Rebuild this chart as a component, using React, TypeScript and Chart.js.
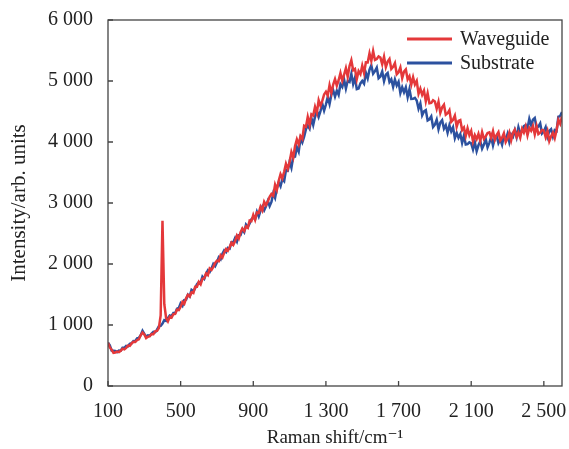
import React, { useEffect, useRef } from "react";
import { Chart, registerables } from "chart.js";

Chart.register(...registerables);

// Raman shift grid: first sample and sampling step (cm^-1)
const shiftStart = 100;
const shiftStep = 10;

// Intensity (arb. units), one value per 10 cm^-1 from 100 to 2600
const waveguide = [
  709, 632, 595, 543, 550, 564, 554, 578, 612, 600,
  625, 662, 656, 698, 725, 721, 753, 765, 831, 877,
  844, 785, 806, 815, 852, 848, 895, 902, 948, 1159,
  2710, 1340, 1115, 1060, 1135, 1120, 1178, 1182, 1250, 1245,
  1298, 1378, 1346, 1438, 1494, 1466, 1534, 1522, 1626, 1626,
  1706, 1666, 1758, 1766, 1846, 1818, 1926, 1902, 1954, 2018,
  2054, 2046, 2142, 2106, 2186, 2246, 2218, 2278, 2350, 2314,
  2375, 2466, 2417, 2523, 2584, 2540, 2616, 2592, 2713, 2704,
  2804, 2725, 2844, 2837, 2938, 2877, 3020, 2965, 3024, 3101,
  3148, 3120, 3300, 3216, 3364, 3472, 3404, 3512, 3644, 3560,
  3673, 3835, 3745, 3934, 4042, 3961, 4096, 4051, 4267, 4249,
  4411, 4284, 4454, 4435, 4578, 4478, 4684, 4593, 4673, 4780,
  4824, 4761, 4932, 4806, 4941, 5031, 4923, 5013, 5130, 5004,
  5103, 5212, 5069, 5245, 5340, 5176, 5198, 5030, 5163, 5112,
  5251, 5130, 5306, 5303, 5452, 5328, 5490, 5345, 5361, 5404,
  5384, 5275, 5400, 5228, 5317, 5361, 5197, 5231, 5292, 5110,
  5143, 5222, 5049, 5155, 5190, 5026, 5078, 4940, 5063, 4942,
  5001, 4790, 4876, 4773, 4842, 4668, 4800, 4635, 4641, 4684,
  4664, 4545, 4660, 4478, 4567, 4611, 4447, 4471, 4522, 4330,
  4363, 4432, 4249, 4345, 4360, 4196, 4238, 4100, 4223, 4112,
  4182, 4010, 4112, 4046, 4134, 4016, 4160, 4050, 4092, 4148,
  4158, 4070, 4180, 4036, 4114, 4162, 4024, 4072, 4144, 4000,
  4056, 4154, 4028, 4150, 4200, 4082, 4156, 4070, 4216, 4154,
  4252, 4110, 4232, 4186, 4264, 4126, 4260, 4130, 4152, 4198,
  4188, 4080, 4180, 4016, 4094, 4152, 4064, 4192, 4364, 4300,
  4420,
];

const substrate = [
  710, 667, 581, 578, 575, 556, 583, 580, 626, 627,
  659, 650, 691, 700, 737, 733, 780, 787, 833, 904,
  854, 807, 830, 823, 860, 889, 884, 923, 977, 985,
  1022, 1080, 1067, 1113, 1155, 1145, 1195, 1195, 1268, 1280,
  1356, 1316, 1408, 1416, 1496, 1468, 1576, 1552, 1604, 1668,
  1704, 1696, 1792, 1756, 1836, 1896, 1868, 1928, 2000, 1964,
  2028, 2108, 2076, 2168, 2224, 2196, 2264, 2252, 2356, 2356,
  2425, 2366, 2472, 2473, 2564, 2520, 2646, 2607, 2663, 2734,
  2766, 2732, 2854, 2778, 2876, 2944, 2880, 2948, 3034, 2950,
  3017, 3156, 3084, 3246, 3339, 3275, 3391, 3357, 3541, 3530,
  3677, 3577, 3758, 3760, 3916, 3842, 4057, 3991, 4087, 4209,
  4271, 4219, 4391, 4280, 4416, 4509, 4414, 4507, 4626, 4515,
  4614, 4739, 4625, 4776, 4849, 4744, 4843, 4772, 4948, 4902,
  5027, 4875, 5004, 4984, 5118, 4952, 5055, 4867, 4876, 4961,
  5001, 4957, 5135, 5042, 5186, 5257, 5120, 5161, 5218, 5045,
  5074, 5155, 4997, 5104, 5133, 4984, 5029, 4904, 5026, 4926,
  4987, 4802, 4898, 4815, 4896, 4737, 4867, 4706, 4707, 4724,
  4681, 4546, 4633, 4439, 4502, 4522, 4353, 4373, 4419, 4245,
  4284, 4366, 4209, 4317, 4357, 4219, 4275, 4151, 4274, 4175,
  4242, 4064, 4150, 4068, 4130, 3986, 4104, 3958, 3964, 3994,
  3978, 3878, 3996, 3850, 3946, 4012, 3892, 3958, 4048, 3912,
  3986, 4082, 3944, 4064, 4102, 3982, 4044, 3956, 4100, 4036,
  4132, 3997, 4126, 4087, 4192, 4081, 4242, 4139, 4188, 4261,
  4278, 4220, 4380, 4276, 4364, 4392, 4234, 4252, 4304, 4140,
  4176, 4244, 4088, 4180, 4210, 4092, 4196, 4180, 4416, 4424,
  4490,
];

const seriesLabels = ["Waveguide", "Substrate"];
const seriesColors = ["#e4383a", "#2c519f"];

const xMin = 100;
const xMax = 2600;
const xTicks = [100, 500, 900, 1300, 1700, 2100, 2500];
const yMin = 0;
const yMax = 6000;
const yTicks = [0, 1000, 2000, 3000, 4000, 5000, 6000];

const xTitle = "Raman shift/cm\u207B\u00B9";
const yTitle = "Intensity/arb. units";

const FONT_FAMILY = "'Liberation Serif', 'DejaVu Serif', serif";
const TEXT_COLOR = "#222";
const FRAME_COLOR = "#444";

function fmt(v: number): string {
  if (v >= 1000) {
    return `${Math.floor(v / 1000)} ${String(v % 1000).padStart(3, "0")}`;
  }
  return String(v);
}

const framePlugin = {
  id: "frameAndLegend",
  afterDatasetsDraw(chart: any) {
    const { ctx, chartArea } = chart;
    const { left, right, top, bottom } = chartArea;
    const xs = chart.scales.x;
    const ys = chart.scales.y;
    ctx.save();
    ctx.strokeStyle = FRAME_COLOR;
    ctx.lineWidth = 1.3;
    ctx.strokeRect(left, top, right - left, bottom - top);
    // inward tick marks
    ctx.beginPath();
    xTicks.forEach((v) => {
      const px = xs.getPixelForValue(v);
      ctx.moveTo(px, bottom);
      ctx.lineTo(px, bottom - 5);
    });
    yTicks.forEach((v) => {
      const py = ys.getPixelForValue(v);
      ctx.moveTo(left, py);
      ctx.lineTo(left + 5, py);
    });
    ctx.stroke();

    // legend inside the plot, top right
    const lx0 = right - 155;
    const lx1 = right - 110;
    const tx = right - 102;
    const rows = [top + 19, top + 43];
    ctx.font = `20px ${FONT_FAMILY}`;
    ctx.textBaseline = "middle";
    ctx.textAlign = "left";
    seriesLabels.forEach((lab, i) => {
      ctx.strokeStyle = seriesColors[i];
      ctx.lineWidth = 3;
      ctx.beginPath();
      ctx.moveTo(lx0, rows[i]);
      ctx.lineTo(lx1, rows[i]);
      ctx.stroke();
      ctx.fillStyle = TEXT_COLOR;
      ctx.fillText(lab, tx, rows[i] + 1);
    });
    ctx.restore();
  },
};

export default function App() {
  const canvasRef = useRef<HTMLCanvasElement | null>(null);

  useEffect(() => {
    const canvas = canvasRef.current;
    if (!canvas) return;
    const font = { family: FONT_FAMILY, size: 20 };
    const toPoints = (arr: number[]) =>
      arr.map((v, i) => ({ x: shiftStart + i * shiftStep, y: v }));

    const chart = new Chart(canvas, {
      type: "line",
      data: {
        datasets: [
          {
            label: seriesLabels[0],
            data: toPoints(waveguide),
            borderColor: seriesColors[0],
            backgroundColor: seriesColors[0],
            borderWidth: 2.5,
            pointRadius: 0,
            tension: 0,
          },
          {
            label: seriesLabels[1],
            data: toPoints(substrate),
            borderColor: seriesColors[1],
            backgroundColor: seriesColors[1],
            borderWidth: 2.5,
            pointRadius: 0,
            tension: 0,
          },
        ],
      },
      options: {
        responsive: false,
        animation: false,
        layout: { padding: { top: 20, right: 7, bottom: 0, left: 0 } },
        plugins: {
          legend: { display: false },
          tooltip: { enabled: false },
        },
        scales: {
          x: {
            type: "linear",
            min: xMin,
            max: xMax,
            afterBuildTicks: (s: any) => {
              s.ticks = xTicks.map((v) => ({ value: v }));
            },
            grid: { display: false, drawTicks: false },
            border: { display: false },
            ticks: {
              padding: 14,
              color: TEXT_COLOR,
              font,
              maxRotation: 0,
              autoSkip: false,
              callback: (v: any) => fmt(Number(v)),
            },
            title: {
              display: true,
              text: xTitle,
              color: TEXT_COLOR,
              font: { family: FONT_FAMILY, size: 19 },
              padding: { top: 0, bottom: 0 },
            },
            afterFit: (s: any) => {
              s.height = 63;
              s.paddingLeft = 0;
              s.paddingRight = 0;
            },
          },
          y: {
            type: "linear",
            min: yMin,
            max: yMax,
            afterBuildTicks: (s: any) => {
              s.ticks = yTicks.map((v) => ({ value: v }));
            },
            grid: { display: false, drawTicks: false },
            border: { display: false },
            ticks: {
              padding: 15,
              color: TEXT_COLOR,
              font,
              autoSkip: false,
              callback: (v: any) => fmt(Number(v)),
            },
            title: {
              display: true,
              text: yTitle,
              color: TEXT_COLOR,
              font: { family: FONT_FAMILY, size: 21 },
              padding: { top: 7, bottom: 0 },
            },
            afterFit: (s: any) => {
              s.width = 108;
              s.paddingTop = 0;
              s.paddingBottom = 0;
            },
          },
        },
      },
      plugins: [framePlugin],
    });
    return () => chart.destroy();
  }, []);

  return (
    <div style={{ position: "absolute", left: 0, top: 0, width: 569, height: 449, background: "#fff" }}>
      <canvas ref={canvasRef} width={569} height={449} />
    </div>
  );
}
